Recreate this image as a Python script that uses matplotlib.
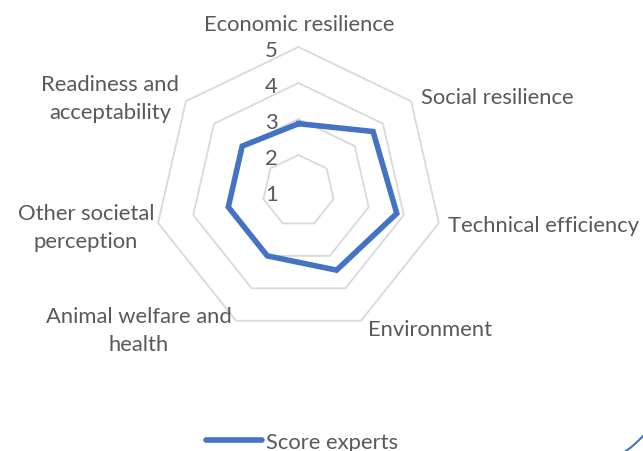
import numpy as np
import matplotlib
matplotlib.use("Agg")
import matplotlib.pyplot as plt
from matplotlib.lines import Line2D

categories = ["Economic resilience", "Social resilience", "Technical efficiency",
              "Environment", "Animal welfare and\nhealth", "Other societal\nperception",
              "Readiness and\nacceptability"]
score_experts = [2.87, 3.65, 3.8, 3.44, 3.0, 3.0, 3.0]
levels = [1, 2, 3, 4, 5]
series_name = "Score experts"

plt.rcParams['font.family'] = ['Lato', 'DejaVu Sans']
TXT = "#595959"
GRID = "#D9D9D9"
BLUE = "#4472C4"
FS = 15.8

W, H = 643, 452
fig = plt.figure(figsize=(W / 100, H / 100), dpi=100)
cx, cy, R = 298.5, 192, 144
ax = fig.add_axes([(cx - R) / W, (H - cy - R) / H, 2 * R / W, 2 * R / H], projection='polar')
ax.set_theta_offset(np.pi / 2)
ax.set_theta_direction(-1)
ax.set_ylim(levels[0], levels[-1])
ax.grid(False)
ax.spines['polar'].set_visible(False)
ax.set_xticks([])
ax.set_yticks([])
ax.patch.set_alpha(0)

n = len(categories)
ang = np.linspace(0, 2 * np.pi, n, endpoint=False)
ang_c = np.append(ang, ang[0])

for lv in levels[1:]:
    ax.plot(ang_c, [lv] * (n + 1), color=GRID, lw=1.3, zorder=1, clip_on=False)

vals = np.append(score_experts, score_experts[0])
ax.plot(ang_c, vals, color=BLUE, lw=4.0, zorder=3, solid_joinstyle='miter', clip_on=False)

for lv in levels:
    ax.annotate(str(lv), xy=(0, lv), xytext=(-15, -2), textcoords='offset points',
                ha='right', va='center', fontsize=FS, color=TXT)

# category label positions (pixel centers) in Excel-like layout
label_pos = [(299, 25), (497, 98), (544, 226), (430, 330), (139, 331), (86, 228), (110, 99)]
for lab, (px, py) in zip(categories, label_pos):
    fig.text(px / W, 1 - py / H, lab, ha='center', va='center', fontsize=FS,
             color=TXT, linespacing=1.5, multialignment='center')

handle = Line2D([], [], color=BLUE, lw=4.0, solid_capstyle='round')
leg = fig.legend([handle], [series_name], loc='center', bbox_to_anchor=(302 / W, 1 - 443 / H),
                 frameon=False, fontsize=FS, handlelength=2.55, handletextpad=0.22,
                 labelcolor=TXT, borderpad=0)

# stray decorative arc at bottom-right corner
t = np.linspace(0, 1, 20)
xs = 626 + 17 * t
ys = 452 - 15 * t + 3 * t * (1 - t)
fig.add_artist(Line2D(xs / W, 1 - ys / H, color=BLUE, lw=1.5, transform=fig.transFigure))

fig.savefig("out.png", dpi=100)
